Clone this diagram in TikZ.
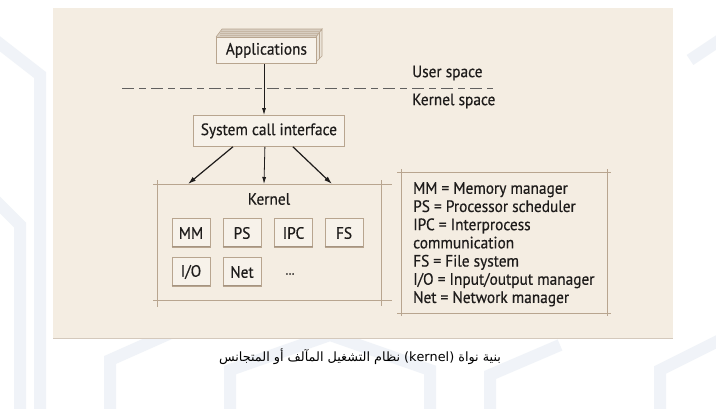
\documentclass[tikz,border=0pt]{standalone}
\usepackage{fontspec}
\setmainfont{PT Sans}[FakeStretch=0.93,FakeBold=0.5]
\newfontfamily\arabicfont[Script=Arabic]{DejaVu Sans}
\TeXXeTstate=1
\usetikzlibrary{arrows.meta}
\definecolor{panel}{RGB}{244,237,226}
\definecolor{boxfill}{RGB}{247,242,234}
\definecolor{edge}{RGB}{184,165,143}
\definecolor{ink}{RGB}{30,28,27}
\definecolor{wm}{RGB}{240,243,248}
\begin{document}
\begin{tikzpicture}[x=1pt,y=-1pt,
  lbl/.style={font=\fontsize{16.5}{18}\selectfont, text=ink, inner sep=0pt},
  modbox/.style={draw=edge, fill=boxfill, line width=0.8pt, minimum width=38pt, minimum height=29pt, inner sep=0pt, font=\fontsize{16.5}{18}\selectfont, text=ink},
  conn/.style={draw=ink, line width=1.2pt, -{Latex[length=8pt,width=5pt]}},
  thin conn/.style={draw=ink, line width=0.8pt, -{Latex[length=7pt,width=4pt]}},
  rule/.style={draw=edge, line width=0.9pt}]
\useasboundingbox (0,0) rectangle (716,408);
\fill[white] (0,0) rectangle (716,408);
% faint watermark
\begin{scope}[wm, line width=12pt, line join=miter]
  \draw (-5,40) -- (40,75) -- (40,420);
  \draw (-5,200) -- (20,225) -- (20,420);
  \draw (110,420) -- (110,360) -- (200,320);
  \draw (230,420) -- (230,370) -- (330,335) -- (430,370) -- (430,420);
  \draw (490,420) -- (490,375) -- (560,345);
  \draw (660,420) -- (660,370) -- (720,340);
  \draw (690,60) -- (720,40);
\end{scope}
% panel
\fill[panel] (53,8) rectangle (673,338);
\draw[edge!60, line width=0.6pt] (53,338) -- (673,338);
% Applications (3D box)
\fill[edge!55] (216,37) -- (222,29) -- (322,29) -- (316,37) -- cycle;
\draw[edge, line width=0.6pt] (216,37) -- (222,29) -- (322,29) -- (316,37);
\foreach \yy in {31,33,35} \draw[edge!80, line width=0.3pt] (220,\yy) -- (319,\yy);
\fill[boxfill!80!edge] (316,37) -- (322,29) -- (322,56) -- (316,62) -- cycle;
\draw[edge, line width=0.6pt] (316,37) -- (322,29) -- (322,56) -- (316,62);
\draw[edge, line width=0.3pt] (319,33) -- (319,59);
\node[modbox, minimum width=100pt, minimum height=26pt, anchor=north west] (apps) at (216,37) {Applications};
% user/kernel separation
\draw[ink!70, line width=0.7pt, dash pattern=on 12pt off 5pt on 7pt off 5pt] (122,88) -- (493,88);
\node[lbl, anchor=west] (user) at (412,73) {User space};
\node[lbl, anchor=west] (kspace) at (412,101) {Kernel space};
% system call interface
\node[modbox, minimum width=151pt, minimum height=31pt, anchor=north west] (sci) at (193,115) {System call interface};
\draw[thin conn] (apps.south -| 264,0) -- (sci.north -| 264,0);
% kernel frame
\coordinate (kl) at (188,184);
\coordinate (km) at (264,184);
\coordinate (kr) at (332,184);
\draw[rule] (153,184) -- (392,184);
\draw[rule] (153,300) -- (392,300);
\draw[rule] (157,180) -- (157,307);
\draw[rule] (381,180) -- (381,306);
\node[lbl] (kernel) at (269,199) {Kernel};
\draw[conn] ([xshift=-36pt]sci.south) -- (kl);
\draw[thin conn] ([xshift=-4pt]sci.south) -- (km);
\draw[conn] ([xshift=24pt]sci.south) -- (kr);
% modules
\node[modbox] (mm) at (191,233) {MM};
\node[modbox] (ps) at (242,233) {PS};
\node[modbox] (ipc) at (293.5,233) {IPC};
\node[modbox] (fs) at (344,233) {FS};
\node[modbox] (io) at (191,272) {I/O};
\node[modbox] (net) at (242,272) {Net};
\node[lbl, font=\fontsize{13}{14}\selectfont] (dots) at (290,274) {\dots};
\foreach \n in {mm,ps,ipc,fs,io,net}
  \draw[edge!90!black, line width=1pt] ([yshift=1pt]\n.south west) -- ([yshift=1pt]\n.south east);
% legend frame
\draw[rule] (397,172) -- (611,172);
\draw[rule] (397,313) -- (611,313);
\draw[rule] (401,169) -- (401,316);
\draw[rule] (607,169) -- (607,316);
\node[lbl, align=left, anchor=north west, font=\fontsize{16.5}{18.2}\selectfont] (legend) at (413,182)
  {MM = Memory manager\\PS = Processor scheduler\\IPC = Interprocess\\communication\\FS = File system\\I/O = Input/output manager\\Net = Network manager};
% caption
\node[inner sep=0pt, font=\arabicfont\fontsize{12.8}{15}\selectfont, text=black] (caption) at (360,357)
  {\beginR بنية نواة \beginL(kernel)\endL{} نظام التشغيل المآلف أو المتجانس\endR};
\end{tikzpicture}
\end{document}
